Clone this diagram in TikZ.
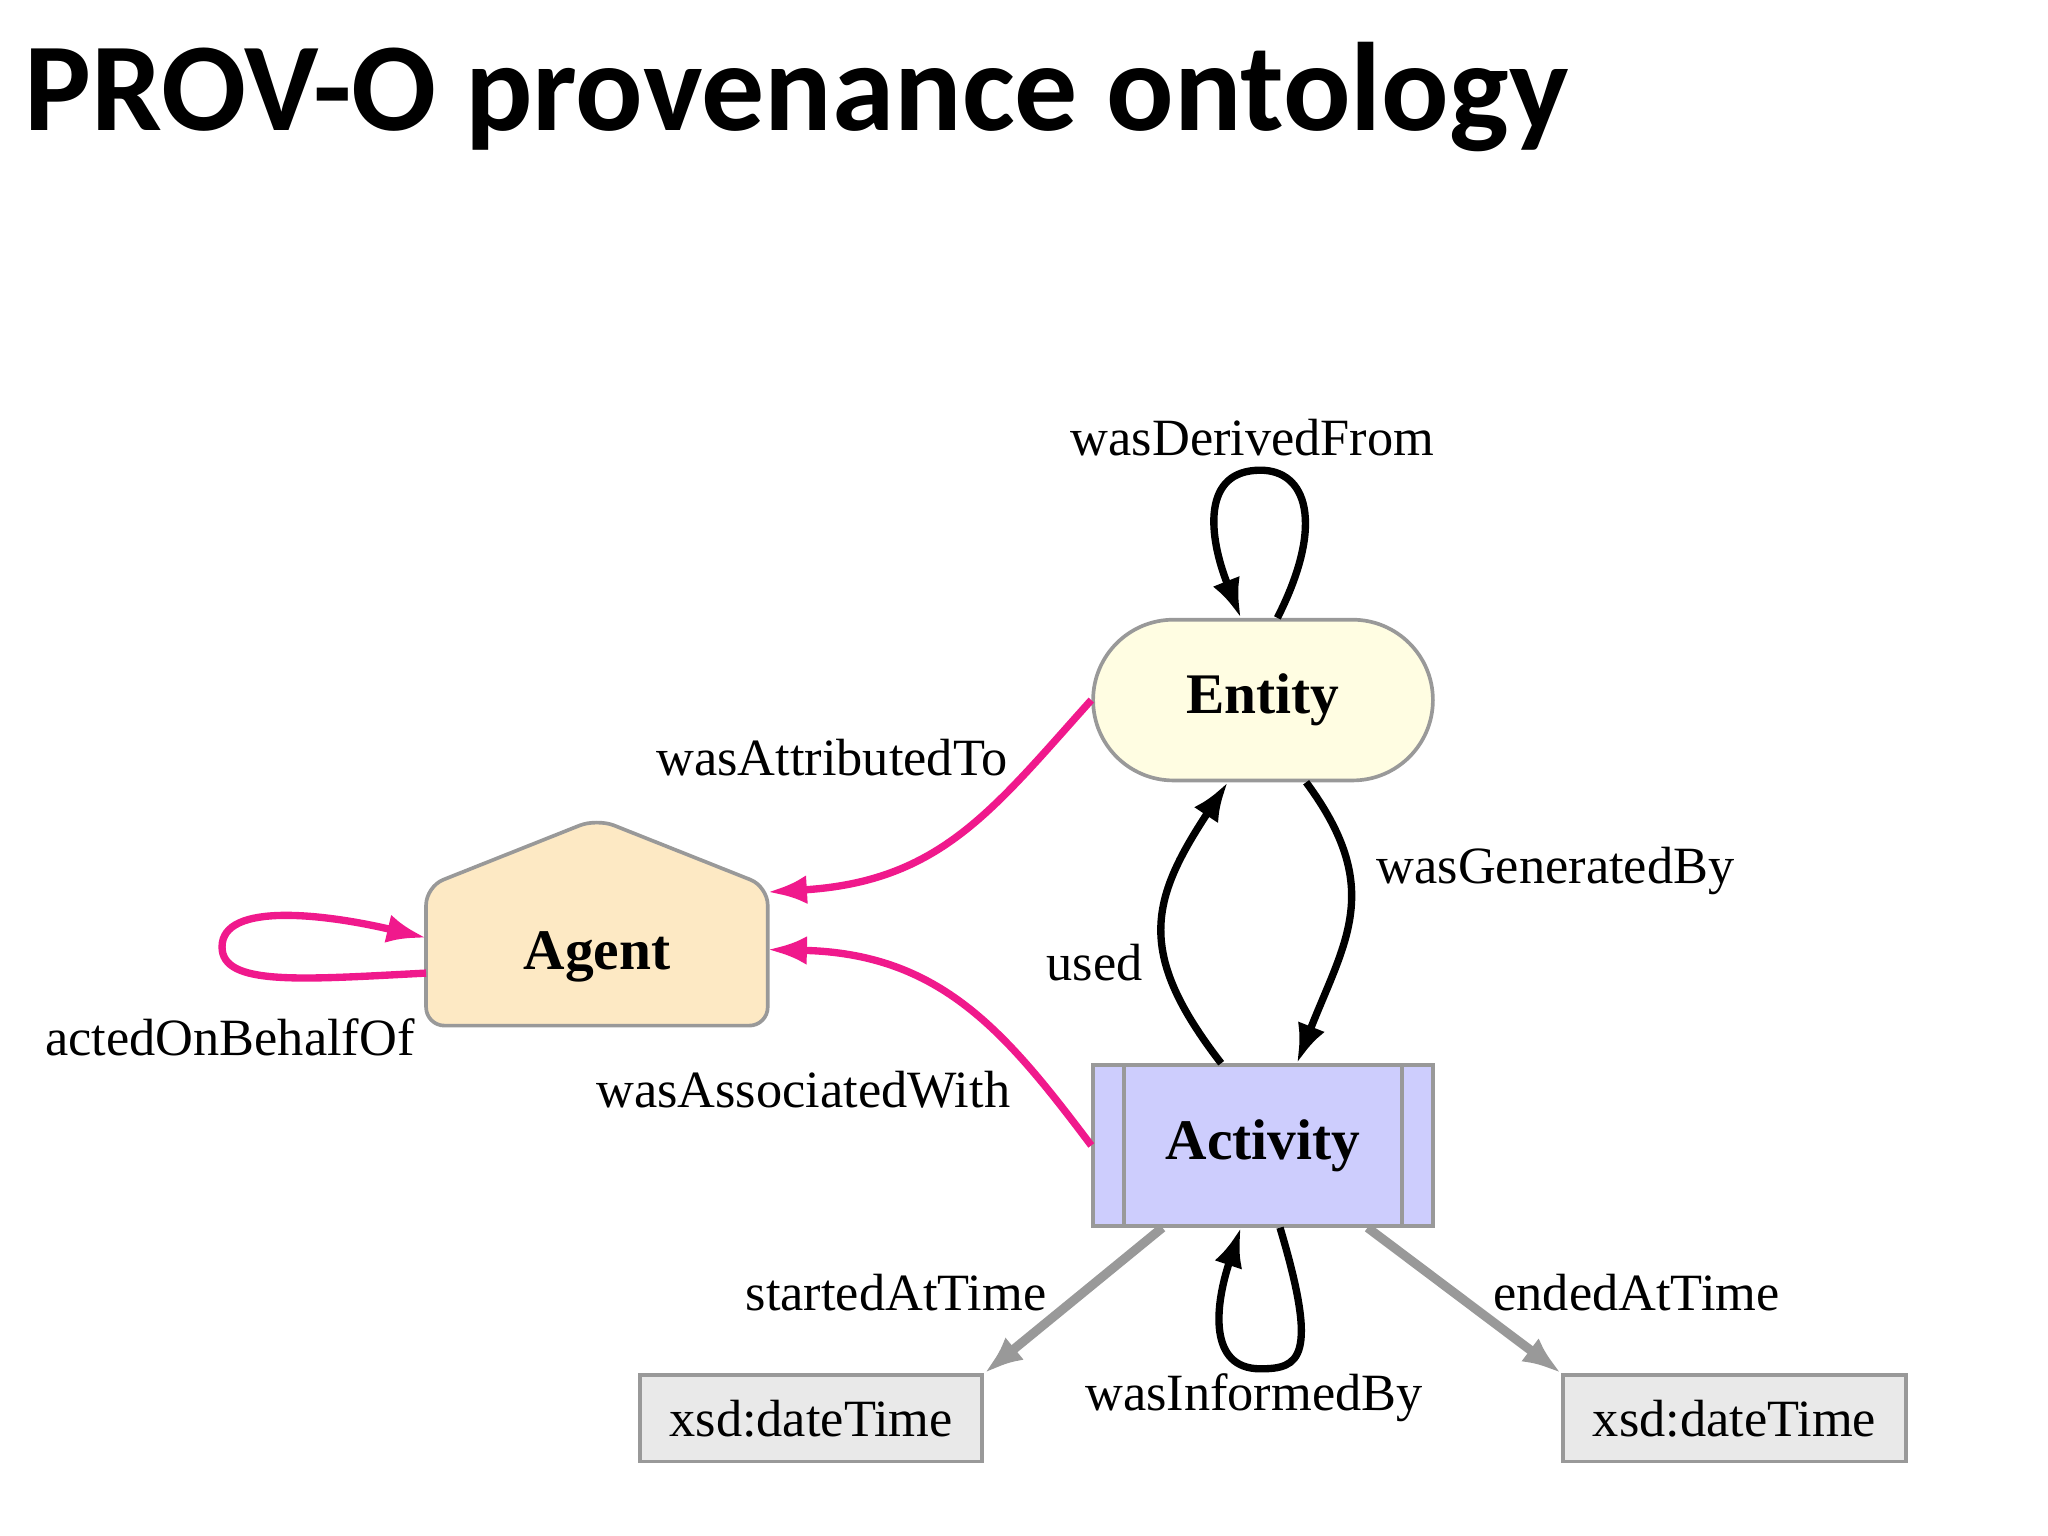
\documentclass[tikz,border=0pt]{standalone}
\usepackage{fontspec}
\setmainfont{Liberation Serif}
\newfontfamily\titlefont{Carlito}
\usetikzlibrary{arrows.meta,shapes.misc}
\definecolor{entfill}{HTML}{FFFDE2}
\definecolor{agfill}{HTML}{FDE9C4}
\definecolor{actfill}{HTML}{CDCDFD}
\definecolor{xsdfill}{HTML}{E9E9E9}
\definecolor{pinkline}{HTML}{F0198C}
\definecolor{boxline}{HTML}{999999}
\tikzset{
  lbl/.style={font=\fontsize{11.4}{13}\selectfont, inner sep=0pt},
  cls/.style={draw=boxline, line width=0.8pt, font=\fontsize{12.5}{14}\selectfont\bfseries, inner sep=0pt},
  blk/.style={line width=1.6pt, -{Latex[length=3mm,width=2.2mm]}},
  pnk/.style={pinkline, line width=1.6pt, -{Latex[length=3mm,width=2.2mm]}},
  gry/.style={boxline, line width=2pt, -{Latex[length=3mm,width=2.2mm]}}
}
\begin{document}
\begin{tikzpicture}[x=0.01cm, y=-0.01cm]
    \useasboundingbox (0,0) rectangle (1568,1176);
    \node [anchor=base west, font=\titlefont\fontsize{27.4}{30}\selectfont\bfseries, inner sep=0pt] (title) at (18,100) {PROV-O provenance ontology};

    % classes
    \node [cls, fill=entfill, rounded rectangle, minimum width=2.6cm, minimum height=1.23cm] (entity) at (967,536) {Entity};
    \node [cls, fill=actfill, minimum width=2.6cm, minimum height=1.23cm] (activity) at (967,877) {Activity};
    \draw [boxline, line width=0.8pt] ([xshift=0.25cm]activity.north west) -- ([xshift=0.25cm]activity.south west);
    \draw [boxline, line width=0.8pt] ([xshift=-0.25cm]activity.north east) -- ([xshift=-0.25cm]activity.south east);
    \node [minimum width=2.6cm, minimum height=1.57cm, inner sep=0pt] (agent) at (457,706) {};
    \draw [boxline, line width=0.8pt, fill=agfill, rounded corners=4pt] (agent.south west) -- ([yshift=-0.52cm]agent.north west) -- (agent.north) -- ([yshift=-0.52cm]agent.north east) -- (agent.south east) -- cycle;
    \node [font=\fontsize{12.5}{14}\selectfont\bfseries] (agenttext) at (457,733) {Agent};
    \node [cls, fill=xsdfill, font=\fontsize{11.4}{13}\selectfont, minimum width=2.62cm, minimum height=0.66cm] (start) at (621,1086) {xsd:dateTime};
    \node [cls, fill=xsdfill, font=\fontsize{11.4}{13}\selectfont, minimum width=2.62cm, minimum height=0.66cm] (end) at (1328,1086) {xsd:dateTime};

    % properties
    \draw [blk] ([xshift=0.11cm]entity.north) .. controls (1015,400) and (1000,360) .. (965,360) .. controls (920,360) and (925,410) .. ([xshift=-0.17cm]entity.north);
    \draw [blk] ([xshift=-0.32cm]activity.north) .. controls (870,730) and (880,690) .. ([xshift=-0.27cm]entity.south);
    \draw [blk] ([xshift=0.33cm]entity.south) .. controls (1060,680) and (1030,720) .. ([xshift=0.26cm]activity.north);
    \draw [blk] ([xshift=0.13cm]activity.south) .. controls (1010,1040) and (995,1048) .. (965,1048) .. controls (925,1048) and (930,1000) .. ([xshift=-0.17cm]activity.south);
    \draw [pnk] (entity.west) .. controls (760,620) and (720,675) .. ([yshift=0.23cm]agent.east);
    \draw [pnk] (activity.west) .. controls (770,790) and (720,730) .. ([yshift=-0.21cm]agent.east);
    \draw [pnk] ([yshift=-0.39cm]agent.west) .. controls (230,750) and (170,755) .. (170,725) .. controls (170,690) and (250,700) .. ([yshift=-0.12cm]agent.west);
    \draw [gry] ([xshift=-0.77cm]activity.south) -- (start.north east);
    \draw [gry] ([xshift=0.8cm]activity.south) -- (end.north west);

    % labels
    \node [lbl] (derived) at (959,335) {wasDerivedFrom};
    \node [lbl] (attributed) at (637,580) {wasAttributedTo};
    \node [lbl] (generated) at (1191,667) {wasGeneratedBy};
    \node [lbl] (used) at (838,737) {used};
    \node [lbl] (behalf) at (176,794) {actedOnBehalfOf};
    \node [lbl] (associated) at (615,834) {wasAssociatedWith};
    \node [lbl] (started) at (686,990) {startedAtTime};
    \node [lbl] (ended) at (1253,990) {endedAtTime};
    \node [lbl] (informed) at (960,1070) {wasInformedBy};
\end{tikzpicture}
\end{document}
